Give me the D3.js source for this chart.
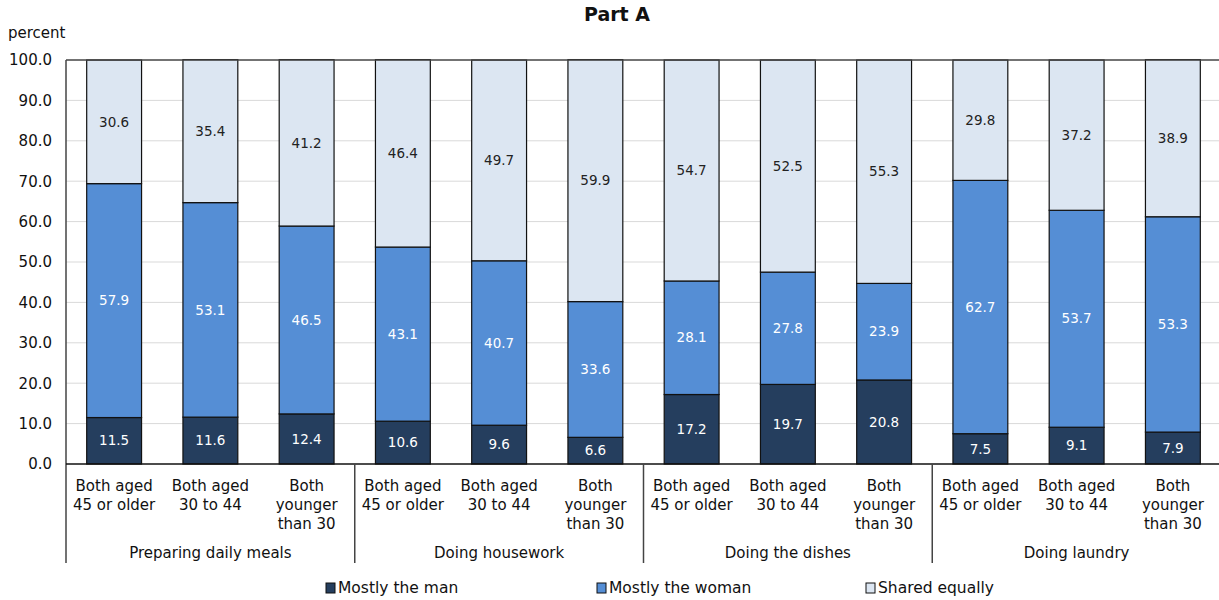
<!DOCTYPE html>
<html>
<head>
<meta charset="utf-8">
<script src="https://cdn.jsdelivr.net/npm/d3@7"></script>
<style>
  html, body { margin: 0; padding: 0; background: #fff; }
  svg { display: block; font-family: "DejaVu Sans", Verdana, sans-serif; }
</style>
</head>
<body>
<svg id="chart" width="1219" height="600"></svg>
<script>
// Who does the household task, by age of the couple (percent)
const tasks = ["Preparing daily meals", "Doing housework", "Doing the dishes", "Doing laundry"];
const ageGroups = [["Both aged", "45 or older"], ["Both aged", "30 to 44"], ["Both", "younger", "than 30"]];
const seriesNames = ["Mostly the man", "Mostly the woman", "Shared equally"];

const mostlyMan   = [11.5, 11.6, 12.4, 10.6, 9.6, 6.6, 17.2, 19.7, 20.8, 7.5, 9.1, 7.9];
const mostlyWoman = [57.9, 53.1, 46.5, 43.1, 40.7, 33.6, 28.1, 27.8, 23.9, 62.7, 53.7, 53.3];
const sharedEq    = [30.6, 35.4, 41.2, 46.4, 49.7, 59.9, 54.7, 52.5, 55.3, 29.8, 37.2, 38.9];

const yTicks = [0, 10, 20, 30, 40, 50, 60, 70, 80, 90, 100];

const colors = ["#253e5e", "#558ed5", "#dce6f2"];
const labelColors = ["#ffffff", "#ffffff", "#222222"];

const svg = d3.select("#chart");
const plotLeft = 66, plotRight = 1221, plotTop = 60, plotBottom = 464, sepBottom = 563;

// one row per bar
const rows = [];
tasks.forEach((t, ti) => ageGroups.forEach((a, ai) => {
  const i = ti * ageGroups.length + ai;
  rows.push({ key: i, task: t, age: a, v: [mostlyMan[i], mostlyWoman[i], sharedEq[i]] });
}));

const x = d3.scaleBand().domain(rows.map(r => r.key)).range([plotLeft, plotRight]).paddingInner(0.43).paddingOuter(0.215);
const y = d3.scaleLinear().domain([0, 100]).range([plotBottom, plotTop]);
const slot = (plotRight - plotLeft) / rows.length;

// gridlines
svg.append("g").selectAll("line").data(yTicks.filter(t => t > 0 && t < 100)).join("line")
  .attr("x1", plotLeft).attr("x2", plotRight)
  .attr("y1", d => y(d)).attr("y2", d => y(d))
  .attr("stroke", "#d9d9d9").attr("stroke-width", 1);

// stacked bars
const stack = d3.stack().keys([0, 1, 2]).value((r, k) => r.v[k]);
const layers = stack(rows);
const barG = svg.append("g");
layers.forEach((layer, k) => {
  barG.selectAll(null).data(layer).join("rect")
    .attr("x", d => x(d.data.key))
    .attr("width", x.bandwidth())
    .attr("y", d => y(d[1]))
    .attr("height", d => y(d[0]) - y(d[1]))
    .attr("fill", colors[k])
    .attr("stroke", "#111").attr("stroke-width", 1.2);
});
layers.forEach((layer, k) => {
  barG.selectAll(null).data(layer).join("text")
    .attr("x", d => x(d.data.key) + x.bandwidth() / 2)
    .attr("y", d => (y(d[0]) + y(d[1])) / 2)
    .attr("dy", "0.35em")
    .attr("text-anchor", "middle")
    .attr("font-size", 13.5)
    .attr("fill", labelColors[k])
    .text(d => d.data.v[k].toFixed(1));
});

// y axis
const yAxis = d3.axisLeft(y).tickValues(yTicks).tickFormat(d3.format(".1f")).tickSize(0).tickPadding(14);
const yg = svg.append("g").attr("transform", `translate(${plotLeft},0)`).call(yAxis);
yg.select(".domain").remove();
yg.selectAll("text").attr("font-size", 15).attr("fill", "#111").attr("font-family", "DejaVu Sans, Verdana, sans-serif");

// frame lines
svg.append("line").attr("x1", plotLeft).attr("x2", plotRight).attr("y1", plotTop).attr("y2", plotTop).attr("stroke", "#444").attr("stroke-width", 1.5);
svg.append("line").attr("x1", plotLeft).attr("x2", plotLeft).attr("y1", plotTop).attr("y2", sepBottom).attr("stroke", "#444").attr("stroke-width", 1.5);
svg.append("line").attr("x1", plotLeft).attr("x2", plotRight).attr("y1", plotBottom).attr("y2", plotBottom).attr("stroke", "#111").attr("stroke-width", 1.5);

// group separators
svg.append("g").selectAll("line").data(d3.range(1, tasks.length)).join("line")
  .attr("x1", d => plotLeft + d * ageGroups.length * slot).attr("x2", d => plotLeft + d * ageGroups.length * slot)
  .attr("y1", plotBottom).attr("y2", sepBottom)
  .attr("stroke", "#444").attr("stroke-width", 1.5);

// category labels
const catG = svg.append("g");
rows.forEach(r => {
  const cx = x(r.key) + x.bandwidth() / 2;
  const t = catG.append("text")
    .attr("text-anchor", "middle")
    .attr("font-size", 15).attr("fill", "#111");
  r.age.forEach((line, li) => t.append("tspan")
    .attr("x", cx)
    .attr("y", 491 + li * 19).text(line));
});

// task labels
svg.append("g").selectAll("text").data(tasks).join("text")
  .attr("x", (d, i) => plotLeft + (i + 0.5) * ageGroups.length * slot)
  .attr("y", 558)
  .attr("text-anchor", "middle")
  .attr("font-size", 15).attr("fill", "#111")
  .text(d => d);

// title and unit
svg.append("text").attr("x", 617).attr("y", 21).attr("text-anchor", "middle")
  .attr("font-size", 19).attr("font-weight", "bold").attr("fill", "#111").text("Part A");
svg.append("text").attr("x", 8).attr("y", 38)
  .attr("font-size", 15).attr("fill", "#111").text("percent");

// legend
const legendX = [326, 597, 866];
const lg = svg.append("g").selectAll("g").data(seriesNames).join("g")
  .attr("transform", (d, i) => `translate(${legendX[i]},583)`);
lg.append("rect").attr("width", 9).attr("height", 10).attr("fill", (d, i) => colors[i])
  .attr("stroke", "#111").attr("stroke-width", 1);
lg.append("text").attr("x", 12).attr("y", 10).attr("font-size", 15.5).attr("fill", "#111").text(d => d);
</script>
</body>
</html>
